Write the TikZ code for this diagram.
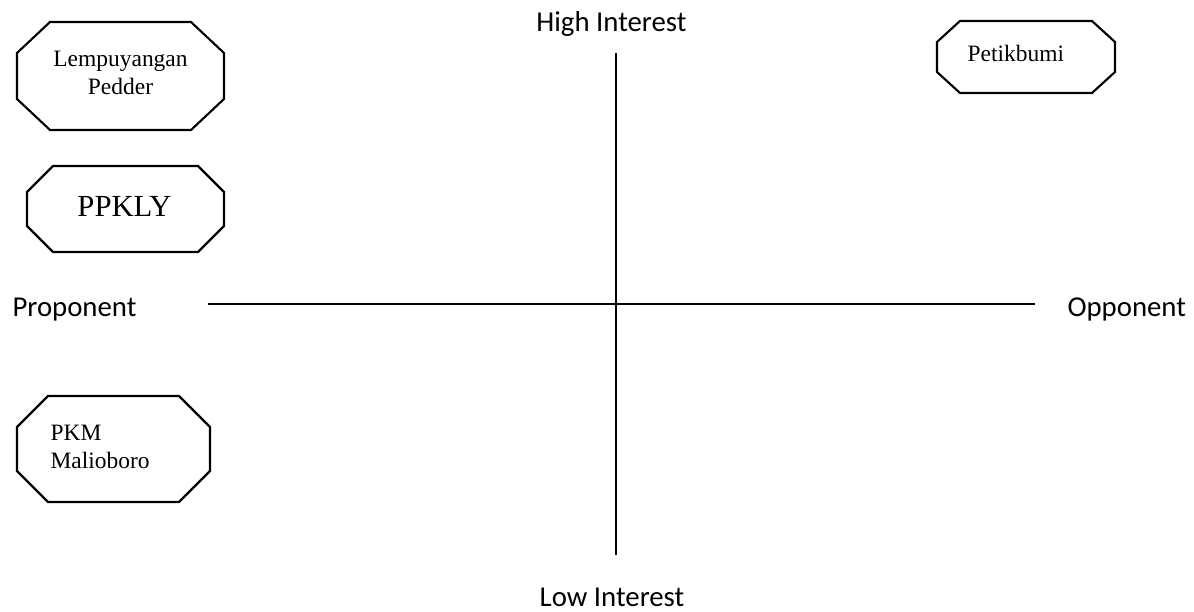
\documentclass[tikz,border=0pt]{standalone}
\usepackage{fontspec}
\setmainfont{Liberation Serif}
\newfontfamily\calibri{Carlito}
\usepackage{tikz}
\usetikzlibrary{positioning,calc}
\tikzset{
  oct/.style={draw=black,line width=0.8pt,line join=miter},
  axis/.style={draw=black,line width=0.75pt},
  tag/.style={font=\calibri\fontsize{10.8}{13}\selectfont,inner sep=0pt},
  actor/.style={font=\fontsize{8.8}{10.5}\selectfont,inner sep=0pt},
}
% octagon from its bounding box and the two chamfer lengths
\newcommand{\octbox}[6]{%
  \draw[oct] (#1+#5,#2)--(#3-#5,#2)--(#3,#2+#6)--(#3,#4-#6)--(#3-#5,#4)
    --(#1+#5,#4)--(#1,#4-#6)--(#1,#2+#6)--cycle;}

\begin{document}
\begin{tikzpicture}[x=0.375pt,y=-0.375pt]
\useasboundingbox (0,0) rectangle (1194,612);
% axes
\coordinate (top) at (616,53); \coordinate (bot) at (616,555);
\coordinate (lft) at (208,304); \coordinate (rgt) at (1035,304);
\draw[axis] (top)--(bot);
\draw[axis] (lft)--(rgt);
\node[tag,anchor=base] (high) at (611.5,32) {High Interest};
\node[tag,anchor=base] (low) at (612,607) {Low Interest};
\node[tag,anchor=base west] (pro) at (12,317) {Proponent};
\node[tag,anchor=base west] (opp) at (1067,317) {Opponent};
% stakeholders (base = last line)
\octbox{17}{22}{224}{130}{33}{31}
\node[actor,align=center,anchor=base] (lemp) at (120.5,95) {Lempuyangan\\Pedder};
\octbox{27}{166}{224}{252}{26}{26}
\node[actor,font=\fontsize{11.5}{13}\selectfont,anchor=base] (ppkly) at (124.5,217) {PPKLY};
\octbox{17}{396}{210}{502}{31}{31}
\node[actor,align=left,anchor=base west] (pkm) at (50,469) {PKM\\Malioboro};
\octbox{937}{21}{1115}{93}{23}{21}
\node[actor,anchor=base west] (petik) at (967,62) {Petikbumi};
\end{tikzpicture}
\end{document}
